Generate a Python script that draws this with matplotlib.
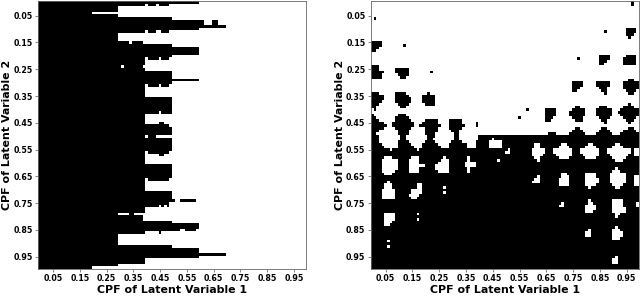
import numpy as np
import matplotlib
matplotlib.use("Agg")
import matplotlib.pyplot as plt

tick_labels = ["0.05", "0.15", "0.25", "0.35", "0.45", "0.55", "0.65", "0.75", "0.85", "0.95"]
tick_cells = [5, 15, 25, 35, 45, 55, 65, 75, 85, 95]

# left panel: (first row, last row, black column spans)
left_rows = [
    (0, 0, [(0, 60)]), (1, 1, [(0, 40), (41, 44), (45, 49)]), (2, 3, [(0, 30)]), (4, 4, [(0, 20)]),
    (5, 5, [(0, 30)]), (6, 6, [(0, 50)]), (7, 8, [(0, 62), (65, 67)]), (9, 9, [(0, 70)]),
    (10, 10, [(0, 60)]), (11, 11, [(0, 40), (41, 44), (46, 49)]), (12, 14, [(0, 30)]),
    (15, 15, [(0, 34), (35, 39)]), (16, 16, [(0, 50)]), (17, 19, [(0, 60)]), (20, 20, [(0, 50)]),
    (21, 21, [(0, 40), (41, 45), (46, 49)]), (22, 23, [(0, 40)]), (24, 24, [(0, 31), (32, 39)]),
    (25, 25, [(0, 40)]), (26, 28, [(0, 50)]), (29, 29, [(0, 60)]), (30, 30, [(0, 50)]),
    (31, 31, [(0, 40), (41, 45), (46, 49)]), (32, 35, [(0, 40)]), (36, 40, [(0, 50)]),
    (41, 41, [(0, 45), (46, 50)]), (42, 44, [(0, 40)]), (45, 45, [(0, 40), (45, 47)]),
    (46, 46, [(0, 49)]), (47, 49, [(0, 50)]), (50, 50, [(0, 40), (41, 44)]), (51, 55, [(0, 50)]),
    (56, 56, [(0, 40), (41, 49)]), (57, 57, [(0, 40), (45, 47)]), (58, 60, [(0, 40)]),
    (61, 65, [(0, 50)]), (66, 66, [(0, 40), (41, 49)]), (67, 70, [(0, 40)]), (71, 73, [(0, 50)]),
    (74, 74, [(0, 51), (53, 59)]), (75, 75, [(0, 49)]), (76, 76, [(0, 45), (46, 47), (48, 49)]),
    (77, 78, [(0, 40)]), (79, 79, [(0, 30), (34, 36)]), (80, 81, [(0, 39)]), (82, 82, [(0, 50)]),
    (83, 84, [(0, 60)]), (85, 85, [(0, 53), (55, 59)]), (86, 86, [(0, 40), (45, 46)]),
    (87, 90, [(0, 30)]), (91, 91, [(0, 50)]), (92, 93, [(0, 60)]), (94, 94, [(0, 70)]),
    (95, 95, [(0, 60)]), (96, 97, [(0, 40)]), (98, 98, [(0, 30)]), (99, 99, [(0, 20)]),
]

# right panel: (first row, spans of following rows)
right_solid_rows = [(50, 52, 40, 100), (52, 55, 49, 100), (55, 100, 0, 100)]
right_black = [
    (0, [(97, 98), (97, 98)]), (6, [(1, 2)]), (16, [(12, 13)]), (26, [(22, 23)]),
    (21, [(77, 78)]), (11, [(87, 88)]), (40, [(58, 59)]), (43, [(55, 56)]),
    (15, [(0, 4), (0, 4), (0, 3), (0, 2)]),
    (24, [(0, 3), (0, 3), (0, 5), (0, 4), (0, 4)]),
    (25, [(9, 14), (9, 14), (10, 14), (11, 13)]),
    (34, [(0, 3), (0, 5), (0, 5), (0, 4), (0, 3), (0, 2), (1, 2)]),
    (34, [(9, 13), (9, 14), (9, 15), (9, 15), (10, 14), (11, 13)]),
    (34, [(21, 22), (19, 24), (19, 24), (19, 24), (20, 24)]),
    (40, [(65, 69), (65, 69), (65, 69), (65, 68), (65, 67)]),
    (39, [(76, 78), (75, 80), (74, 80), (74, 80), (75, 79), (76, 79)]),
    (39, [(85, 88), (84, 90), (84, 90), (84, 90), (85, 89), (86, 88), (87, 88)]),
    (38, [(96, 97), (94, 98), (93, 100), (92, 100), (93, 100), (94, 99), (95, 98), (96, 97)]),
    (10, [(95, 99), (95, 99), (95, 98), (96, 97)]),
    (20, [(85, 89), (85, 89), (85, 88), (85, 87)]),
    (20, [(95, 99), (94, 99), (94, 99), (94, 99)]),
    (30, [(75, 79), (75, 79), (75, 78), (75, 77)]),
    (30, [(84, 89), (84, 89), (85, 88), (86, 88), (87, 88)]),
    (29, [(96, 98), (94, 100), (94, 100), (94, 100), (95, 99), (96, 98)]),
    (42, [(0, 1), (0, 2), (0, 3), (0, 5), (0, 6), (0, 5), (0, 3), (0, 2), (0, 3), (0, 3), (0, 3), (0, 4), (0, 5)]),
    (42, [(10, 13), (9, 14), (9, 15), (8, 16), (8, 16), (9, 15), (10, 14), (10, 14), (11, 13), (11, 13), (10, 14), (10, 15), (10, 16)]),
    (44, [(20, 25), (19, 25), (18, 26), (20, 25), (20, 25), (20, 24), (21, 24), (21, 23), (20, 24), (19, 25), (19, 26)]),
    (44, [(29, 34), (29, 34), (29, 35), (29, 34), (30, 33), (31, 33), (31, 33), (31, 33), (30, 34), (29, 36), (29, 36)]),
    (45, [(39, 40), (39, 40)]),
    (52, [(39, 44), (39, 44), (39, 44)]),
    (47, [(76, 78), (75, 79), (74, 80)]),
    (47, [(86, 88), (85, 89), (84, 90)]),
    (47, [(96, 98), (94, 99), (93, 100)]),
    (49, [(66, 69)]),
]
right_white = [
    (51, [(45, 46), (47, 48)]),
    (55, [(7, 8)]), (55, [(17, 18)]), (59, [(47, 48)]),
    (69, [(27, 28)]), (71, [(27, 28)]), (79, [(17, 18)]), (81, [(17, 18)]), (89, [(6, 7)]), (91, [(6, 7)]),
    (75, [(99, 100), (99, 100)]),
    (58, [(5, 8), (4, 10), (4, 10), (4, 10), (4, 10), (4, 9), (5, 8)]),
    (58, [(15, 18), (14, 18), (14, 18), (14, 20), (14, 18), (14, 18)]),
    (58, [(27, 28), (26, 29), (25, 29), (24, 29), (24, 29), (25, 29)]),
    (58, [(36, 37), (36, 37), (35, 39), (35, 39), (36, 37), (36, 37)]),
    (55, [(51, 52), (50, 52)]),
    (53, [(61, 63), (61, 63), (60, 65), (60, 65), (60, 64), (61, 63), (62, 63)]),
    (53, [(71, 73), (70, 74), (68, 75), (68, 75), (69, 75), (70, 74)]),
    (53, [(81, 83), (80, 84), (78, 85), (78, 85), (79, 85), (80, 84)]),
    (53, [(91, 93), (90, 94), (88, 97), (88, 97), (89, 96), (90, 95), (91, 94)]),
    (55, [(98, 100), (98, 100), (98, 100)]),
    (67, [(6, 7), (5, 8), (5, 8), (4, 9), (4, 9), (4, 9), (4, 9)]),
    (68, [(17, 19), (17, 19), (15, 19), (15, 19), (14, 18), (15, 17)]),
    (79, [(5, 9), (5, 9), (5, 9), (5, 8), (5, 7)]),
    (65, [(62, 63), (61, 63), (60, 63)]),
    (64, [(71, 73), (71, 74), (70, 74), (70, 74), (70, 74)]),
    (64, [(80, 84), (80, 84), (80, 85), (80, 85), (80, 84), (81, 82)]),
    (62, [(91, 92), (90, 93), (89, 95), (89, 95), (89, 95), (89, 95), (90, 94), (91, 93)]),
    (65, [(98, 100), (98, 100), (98, 100), (98, 100)]),
    (75, [(71, 72), (70, 72)]),
    (74, [(81, 82), (81, 83), (80, 84), (80, 84), (80, 83)]),
    (74, [(90, 94), (90, 94), (90, 94), (90, 95), (90, 95), (91, 93), (91, 92)]),
    (85, [(81, 82), (80, 82), (80, 82)]),
    (84, [(91, 92), (90, 93), (90, 94), (90, 94), (90, 93)]),
    (95, [(91, 92), (90, 92), (90, 92)]),
]

left_grid = np.ones((100, 100))
for first, last, spans in left_rows:
    for a, b in spans:
        left_grid[first:last + 1, a:b] = 0

right_grid = np.ones((100, 100))
for r0, r1, a, b in right_solid_rows:
    right_grid[r0:r1, a:b] = 0
for row, spans in right_black:
    for i, (a, b) in enumerate(spans):
        right_grid[row + i, a:b] = 0
for row, spans in right_white:
    for i, (a, b) in enumerate(spans):
        right_grid[row + i, a:b] = 1

fig = plt.figure(figsize=(6.4, 3.03), dpi=100)
ax1 = fig.add_axes([38.3 / 640, 1 - 268.7 / 303, 267.7 / 640, 267.7 / 303])
ax2 = fig.add_axes([371 / 640, 1 - 268.7 / 303, 267.7 / 640, 267.7 / 303])

for ax, grid in [(ax1, left_grid), (ax2, right_grid)]:
    ax.imshow(grid, cmap="gray", vmin=0, vmax=1, interpolation="nearest", aspect="auto")
    ax.set_xticks(tick_cells)
    ax.set_xticklabels(tick_labels, fontsize=5.7, fontweight="bold")
    ax.set_yticks(tick_cells)
    ax.set_yticklabels(tick_labels, fontsize=5.7, fontweight="bold")
    ax.tick_params(length=2, width=0.5, pad=2, color="#555555")
    ax.set_xlabel("CPF of Latent Variable 1", fontsize=7.95, fontweight="bold", labelpad=1.5)
    ax.set_ylabel("CPF of Latent Variable 2", fontsize=7.95, fontweight="bold", labelpad=1)
    for s in ax.spines.values():
        s.set_linewidth(0.6)
        s.set_color("#666666")

fig.savefig("out.png", dpi=100)
